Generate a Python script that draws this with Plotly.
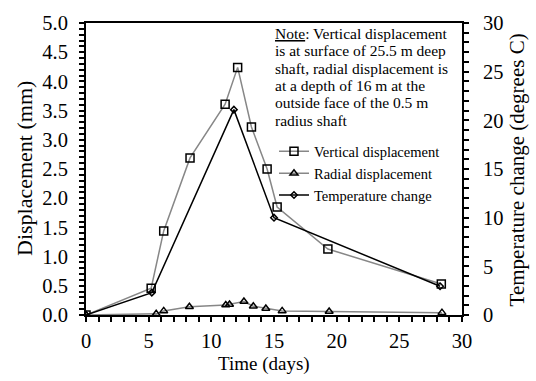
import plotly.graph_objects as go

# Vertical displacement at the shaft surface (mm)
vert_days = [0, 5.2, 6.2, 8.3, 11.1, 12.1, 13.2, 14.45, 15.25, 19.3, 28.35]
vert_mm = [0, 0.46, 1.44, 2.69, 3.61, 4.24, 3.22, 2.50, 1.85, 1.13, 0.53]

# Radial displacement at 16 m depth (mm)
rad_days = [0, 5.6, 6.2, 8.25, 11.15, 11.45, 12.6, 13.35, 14.35, 15.65, 19.4, 28.4]
rad_mm = [0, 0.02, 0.07, 0.14, 0.17, 0.18, 0.23, 0.15, 0.11, 0.07, 0.06, 0.04]

# Temperature change (degrees C)
temp_days = [0, 5.25, 11.8, 15.0, 28.25]
temp_c = [0, 2.3, 21.1, 10.0, 2.95]

note_lines = [
    "<u>Note</u>: Vertical displacement",
    "is at surface of 25.5 m deep",
    "shaft, radial displacement is",
    "at a depth of 16 m at the",
    "outside face of the 0.5 m",
    "radius shaft",
]

FONT = "Liberation Serif"
GREY = "#878787"

fig = go.Figure()

fig.add_trace(go.Scatter(
    x=vert_days, y=vert_mm, name="Vertical displacement",
    mode="lines+markers",
    line=dict(color=GREY, width=1.5),
    marker=dict(symbol="square-open", size=8, color="black", line=dict(width=1.5)),
))
fig.add_trace(go.Scatter(
    x=rad_days, y=rad_mm, name="Radial displacement",
    mode="lines+markers",
    line=dict(color=GREY, width=1.5),
    marker=dict(symbol="triangle-up-open", size=7, color="black", line=dict(width=1.5)),
))
fig.add_trace(go.Scatter(
    x=temp_days, y=temp_c, name="Temperature change", yaxis="y2",
    mode="lines+markers",
    line=dict(color="black", width=1.5),
    marker=dict(symbol="diamond-open", size=5, color="black", line=dict(width=1.5)),
))

# Note block, one annotation per line for a tight line spacing
PLOT_H = 298.0
PLOT_W = 376.0
for i, line in enumerate(note_lines):
    fig.add_annotation(
        xref="paper", yref="paper", x=0.497, y=0.965 - i * 17.8 / PLOT_H,
        xanchor="left", yanchor="middle", align="left", showarrow=False,
        text=line, font=dict(family=FONT, size=15.5, color="black"),
    )

# Axis titles
fig.add_annotation(xref="paper", yref="paper", x=(264 - 86) / PLOT_W, y=-50 / PLOT_H,
                   xanchor="center", yanchor="middle", showarrow=False,
                   text="Time (days)", font=dict(family=FONT, size=19, color="black"))
fig.add_annotation(xref="paper", yref="paper", x=(24 - 86) / PLOT_W, y=0.5,
                   xanchor="center", yanchor="middle", showarrow=False, textangle=-90,
                   text="Displacement (mm)", font=dict(family=FONT, size=22, color="black"))
fig.add_annotation(xref="paper", yref="paper", x=(517 - 86) / PLOT_W, y=0.495,
                   xanchor="center", yanchor="middle", showarrow=False, textangle=-90,
                   text="Temperature change (degrees C)", font=dict(family=FONT, size=21, color="black"))

axis_common = dict(
    showline=True, linecolor="black", linewidth=2,
    ticks="outside", ticklen=5, tickwidth=1.5, tickcolor="black",
    showgrid=False, zeroline=False,
    tickfont=dict(family=FONT, size=20.5, color="black"),
)

fig.update_layout(
    width=536, height=381,
    margin=dict(l=86, r=74, t=17, b=66),
    plot_bgcolor="white", paper_bgcolor="white",
    font=dict(family=FONT, color="black"),
    xaxis=dict(
        **axis_common, range=[0, 30], dtick=5, mirror=True, ticklabelstandoff=1,
        minor=dict(dtick=1, ticks="outside", ticklen=5, tickwidth=1.5, tickcolor="black"),
    ),
    yaxis=dict(
        **axis_common, range=[0, 5], dtick=0.5, tickformat=".1f", ticklabelstandoff=7,
        minor=dict(dtick=0.1, ticks="outside", ticklen=5, tickwidth=1.5, tickcolor="black"),
    ),
    yaxis2=dict(
        **axis_common, range=[0, 30], dtick=5, overlaying="y", side="right", ticklabelstandoff=10,
        minor=dict(dtick=1, ticks="outside", ticklen=5, tickwidth=1.5, tickcolor="black"),
    ),
    legend=dict(
        x=0.5, y=0.615, xanchor="left", yanchor="top",
        bgcolor="rgba(0,0,0,0)", font=dict(family=FONT, size=14.5, color="black"),
        itemwidth=30,
    ),
    showlegend=True,
)

fig.write_html("out.html")
